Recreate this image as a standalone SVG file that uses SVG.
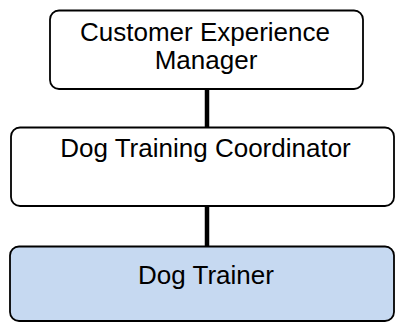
<svg xmlns="http://www.w3.org/2000/svg" width="395" height="322" viewBox="0 0 395 322">
<style>
.box{stroke:#000;stroke-width:1.8;}
.w{fill:#fff;}
.b{fill:#C6D9F1;}
.t{font-family:"Liberation Sans",Arial,sans-serif;font-size:26px;fill:#000;text-anchor:middle;}
.c{stroke:#000;stroke-width:4.5;fill:none;}
</style>
<rect width="395" height="322" fill="#fff"/>
<g id="connectors">
<line class="c" x1="207" y1="89" x2="207" y2="127"/>
<line class="c" x1="207" y1="206" x2="207" y2="246"/>
</g>
<g id="node-manager">
<rect class="box w" x="50" y="10.5" width="313" height="78.5" rx="9"/>
<text class="t" x="205" y="41">Customer Experience</text>
<text class="t" x="206" y="69">Manager</text>
</g>
<g id="node-coordinator">
<rect class="box w" x="11" y="127.5" width="383" height="78.5" rx="9"/>
<text class="t" x="205.5" y="157">Dog Training Coordinator</text>
</g>
<g id="node-trainer">
<rect class="box b" x="10" y="246.5" width="384" height="74.5" rx="9"/>
<text class="t" x="206" y="284">Dog Trainer</text>
</g>
</svg>
